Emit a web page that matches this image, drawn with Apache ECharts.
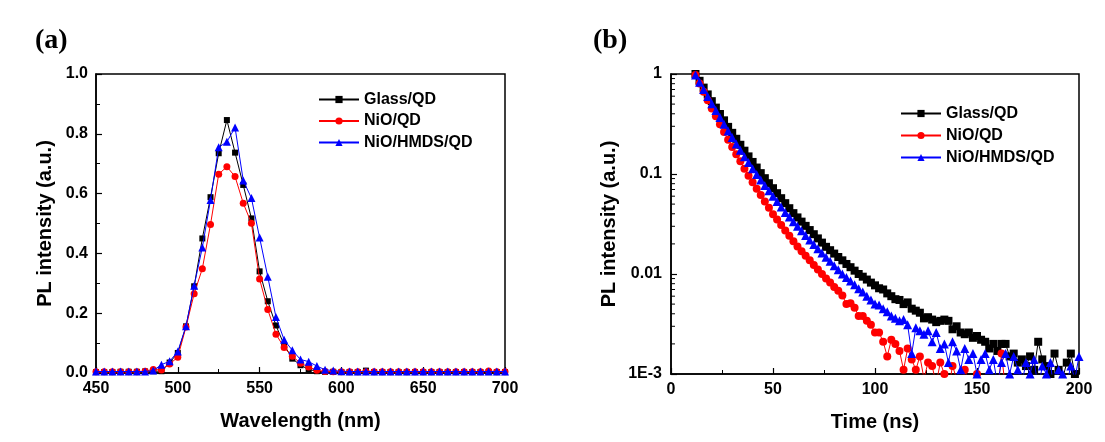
<!DOCTYPE html>
<html><head><meta charset="utf-8">
<script src="https://cdn.jsdelivr.net/npm/echarts@6.0.0/dist/echarts.min.js"></script>
<style>html,body{margin:0;padding:0;background:#fff}#c{width:1105px;height:442px}</style>
</head><body><div id="c"></div>
<script>
const seriesNames = ['Glass/QD', 'NiO/QD', 'NiO/HMDS/QD'];

// Panel (a): PL spectra
const wavelengths = [450,455,460,465,470,475,480,485,490,495,
  500,505,510,515,520,525,530,535,540,545,
  550,555,560,565,570,575,580,585,590,595,
  600,605,610,615,620,625,630,635,640,645,
  650,655,660,665,670,675,680,685,690,695,700];
const plGlass = [0.003,0.003,0.003,0.004,0.004,0.004,0.005,0.006,0.006,0.035,
  0.067,0.156,0.290,0.450,0.588,0.735,0.846,0.737,0.629,0.517,
  0.340,0.240,0.159,0.094,0.048,0.026,0.012,0.006,0.004,0.004,
  0.003,0.003,0.003,0.008,0.003,0.003,0.003,0.003,0.003,0.003,
  0.003,0.003,0.003,0.003,0.003,0.003,0.003,0.003,0.003,0.003,0.003];
const plNiO = [0.004,0.004,0.004,0.004,0.004,0.004,0.006,0.012,0.010,0.030,
  0.053,0.154,0.265,0.349,0.497,0.665,0.690,0.657,0.568,0.501,
  0.314,0.212,0.130,0.085,0.056,0.033,0.020,0.009,0.005,0.004,
  0.004,0.004,0.004,0.004,0.004,0.004,0.004,0.004,0.004,0.004,
  0.004,0.004,0.004,0.004,0.004,0.004,0.004,0.004,0.007,0.004,0.004];
const plHMDS = [0.005,0.005,0.005,0.005,0.005,0.005,0.005,0.008,0.028,0.039,
  0.072,0.156,0.292,0.420,0.579,0.755,0.773,0.821,0.644,0.585,
  0.453,0.322,0.187,0.111,0.076,0.045,0.038,0.023,0.011,0.008,
  0.006,0.005,0.005,0.005,0.005,0.005,0.005,0.005,0.005,0.005,
  0.005,0.005,0.005,0.005,0.005,0.005,0.005,0.005,0.005,0.005,0.005];

// Panel (b): PL decay
const times = [12,14,16,18,20,22,24,26,28,30,
  32,34,36,38,40,42,44,46,48,50,
  52,54,56,58,60,62,64,66,68,70,
  72,74,76,78,80,82,84,86,88,90,
  92,94,96,98,100,102,104,106,108,110,
  112,114,116,118,120,122,124,126,128,130,
  132,134,136,138,140,142,144,146,148,150,
  152,154,156,158,160,162,164,166,168,170,
  172,174,176,178,180,182,184,186,188,190,
  192,194,196,198,200];
const trGlass = [1.0,0.855,0.731,0.625,0.535,0.461,0.398,0.344,0.296,0.258,
  0.225,0.196,0.171,0.150,0.132,0.116,0.102,0.0908,0.0809,0.0721,
  0.0643,0.0573,0.0511,0.0455,0.0406,0.0368,0.0334,0.0303,0.0275,0.0250,
  0.0227,0.0206,0.0187,0.0173,0.0160,0.0148,0.0137,0.0126,0.0117,0.0108,
  0.0100,0.0094,0.0088,0.0082,0.0077,0.0072,0.0070,0.0064,0.0060,0.0056,
  0.0055,0.0050,0.0052,0.0045,0.0043,0.0041,0.0036,0.0037,0.0035,0.0033,
  0.0034,0.0035,0.0034,0.0028,0.0030,0.0026,0.0025,0.0026,0.0023,0.0024,
  0.0022,0.0021,0.0018,0.0020,0.0017,0.0020,0.0020,0.0015,0.0016,0.0013,
  0.0014,0.0012,0.0015,0.0011,0.0021,0.0014,0.0012,0.0010,0.0016,0.0011,
  0.0009,0.0013,0.0016,0.0010,0.0009];
const trNiO = [0.977,0.805,0.664,0.547,0.451,0.377,0.315,0.263,0.220,0.186,
  0.158,0.134,0.113,0.0959,0.0828,0.0714,0.0617,0.0532,0.0459,0.0396,
  0.0350,0.0309,0.0273,0.0241,0.0213,0.0188,0.0169,0.0152,0.0137,0.0123,
  0.0111,0.0100,0.0090,0.0082,0.0074,0.0068,0.0061,0.0050,0.0051,0.0046,
  0.0038,0.0038,0.0034,0.0031,0.0026,0.0026,0.0021,0.0015,0.0022,0.0020,
  0.0017,0.0011,0.0018,0.0014,0.0011,0.0015,0.0009,0.0013,0.0012,0.0008,
  0.0013,0.0010,0.0007,0.0012,0.0009,0.0006,0.0011,0.0008,0.0007,0.0010,
  0.0006,0.0008,0.0005,0.0009,0.0006,0.0016,0.0007,0.0005,0.0008,0.0006,
  0.0005,0.0007,0.0004,0.0006,0.0008,0.0005,0.0007,0.0006,0.0004,0.0007,
  0.0005,0.0006,0.0009,0.0005,0.0006];
const trHMDS = [0.977,0.828,0.701,0.594,0.504,0.431,0.368,0.315,0.269,0.232,
  0.200,0.173,0.149,0.130,0.113,0.0986,0.0871,0.0769,0.0679,0.0600,
  0.0530,0.0468,0.0413,0.0372,0.0334,0.0301,0.0270,0.0243,0.0219,0.0197,
  0.0179,0.0162,0.0147,0.0134,0.0121,0.0110,0.0100,0.0092,0.0085,0.0078,
  0.0071,0.0066,0.0060,0.0055,0.0050,0.0049,0.0045,0.0042,0.0038,0.0036,
  0.0034,0.0035,0.0031,0.0016,0.0029,0.0027,0.0025,0.0027,0.0021,0.0026,
  0.0018,0.0020,0.0013,0.0021,0.0017,0.0011,0.0018,0.0014,0.0016,0.0010,
  0.0014,0.0016,0.0011,0.0014,0.0008,0.0013,0.0016,0.0010,0.0015,0.0011,
  0.0008,0.0013,0.0010,0.0014,0.0007,0.0012,0.0010,0.0013,0.0006,0.0011,
  0.0010,0.0008,0.0012,0.0009,0.0015];
const logMinorTicks = [0.002,0.003,0.004,0.005,0.006,0.007,0.008,0.009,
  0.02,0.03,0.04,0.05,0.06,0.07,0.08,0.09,
  0.2,0.3,0.4,0.5,0.6,0.7,0.8,0.9];

const FONT = '"Liberation Sans", Arial, sans-serif';
const colors = ['#000000', '#ff0000', '#0000ff'];
const symbols = ['rect', 'circle', 'triangle'];
const symSizesA = [6, 7, 8];
const symSizesB = [8, 8, 9];

function axisCommon(extra) {
  return Object.assign({
    axisLine: { show: true, onZero: false, lineStyle: { color: '#000', width: 1.5 } },
    axisTick: { show: true, inside: true, length: 6, lineStyle: { color: '#000', width: 1.2 } },
    splitLine: { show: false },
    axisLabel: { color: '#000', fontSize: 16, fontWeight: 'bold', fontFamily: FONT, margin: 8 },
    nameLocation: 'middle',
    nameTextStyle: { color: '#000', fontSize: 20, fontWeight: 'bold', fontFamily: FONT }
  }, extra);
}

function mkLine(name, i, xs, ys, axis, sizes) {
  return {
    type: 'line', name: name, xAxisIndex: axis, yAxisIndex: axis,
    data: xs.map((x, k) => [x, ys[k]]),
    symbol: symbols[i], symbolSize: sizes[i], showSymbol: true, showAllSymbol: true,
    color: colors[i],
    lineStyle: { color: colors[i], width: 1 },
    itemStyle: { color: colors[i] },
    clip: true, animation: false, z: 2 + i
  };
}

const chart = echarts.init(document.getElementById('c'), null, { renderer: 'canvas' });
const legendText = { fontSize: 16, fontWeight: 'bold', fontFamily: FONT, color: '#000', lineHeight: 17 };
chart.setOption({
  animation: false,
  backgroundColor: '#fff',
  grid: [
    { left: 96, top: 74, width: 409, height: 299, show: true, borderColor: '#000', borderWidth: 1.5, backgroundColor: 'transparent' },
    { left: 671, top: 74, width: 408, height: 300, show: true, borderColor: '#000', borderWidth: 1.5, backgroundColor: 'transparent' }
  ],
  xAxis: [
    axisCommon({ type: 'value', gridIndex: 0, min: 450, max: 700, interval: 50,
      minorTick: { show: true, splitNumber: 2, length: 4, lineStyle: { color: '#000', width: 1 } },
      name: 'Wavelength (nm)', nameGap: 38 }),
    axisCommon({ type: 'value', gridIndex: 1, min: 0, max: 200, interval: 50,
      minorTick: { show: true, splitNumber: 2, length: 4, lineStyle: { color: '#000', width: 1 } },
      name: 'Time (ns)', nameGap: 38 })
  ],
  yAxis: [
    axisCommon({ type: 'value', gridIndex: 0, min: 0, max: 1, interval: 0.2,
      minorTick: { show: true, splitNumber: 2, length: 4, lineStyle: { color: '#000', width: 1 } },
      axisLabel: { color: '#000', fontSize: 16, fontWeight: 'bold', fontFamily: FONT, margin: 8,
        formatter: v => v.toFixed(1) },
      name: 'PL intensity (a.u.)', nameGap: 41 }),
    axisCommon({ type: 'log', logBase: 10, gridIndex: 1, min: 0.001, max: 1,
      minorTick: { show: false },
      axisLabel: { color: '#000', fontSize: 16, fontWeight: 'bold', fontFamily: FONT, margin: 9,
        formatter: v => { const e = Math.round(Math.log10(v)); return e === 0 ? '1' : e === -1 ? '0.1' : e === -2 ? '0.01' : '1E' + e; } },
      name: 'PL intensity (a.u.)', nameGap: 52 })
  ],
  legend: [
    { data: seriesNames, orient: 'vertical', left: 318, top: 91, itemWidth: 40, itemHeight: 9,
      itemGap: 4.5, selectedMode: false, textStyle: legendText, padding: 0 },
    { data: seriesNames, orient: 'vertical', left: 900, top: 105, itemWidth: 40, itemHeight: 9,
      itemGap: 5, selectedMode: false, textStyle: legendText, padding: 0 }
  ],
  graphic: [
    { type: 'text', x: 35, y: 41, style: { text: '(a)', fontSize: 28, fontWeight: 'bold', fontFamily: '"Liberation Serif", "Times New Roman", serif', fill: '#000', verticalAlign: 'middle' } },
    { type: 'text', x: 593, y: 41, style: { text: '(b)', fontSize: 28, fontWeight: 'bold', fontFamily: '"Liberation Serif", "Times New Roman", serif', fill: '#000', verticalAlign: 'middle' } }
  ],
  series: [
    mkLine(seriesNames[0], 0, wavelengths, plGlass, 0, symSizesA),
    mkLine(seriesNames[1], 1, wavelengths, plNiO, 0, symSizesA),
    mkLine(seriesNames[2], 2, wavelengths, plHMDS, 0, symSizesA),
    mkLine(seriesNames[0], 0, times, trGlass, 1, symSizesB),
    mkLine(seriesNames[1], 1, times, trNiO, 1, symSizesB),
    mkLine(seriesNames[2], 2, times, trHMDS, 1, symSizesB),
    {
      type: 'custom', name: 'minorTicks', xAxisIndex: 1, yAxisIndex: 1, silent: true, clip: false,
      data: logMinorTicks.map(v => [0, v]),
      renderItem: (params, api) => {
        const p = api.coord([0, api.value(1)]);
        return { type: 'line', shape: { x1: p[0], y1: p[1], x2: p[0] + 4, y2: p[1] },
          style: { stroke: '#000', lineWidth: 1 } };
      },
      z: 10
    }
  ]
});
</script>
</body></html>
